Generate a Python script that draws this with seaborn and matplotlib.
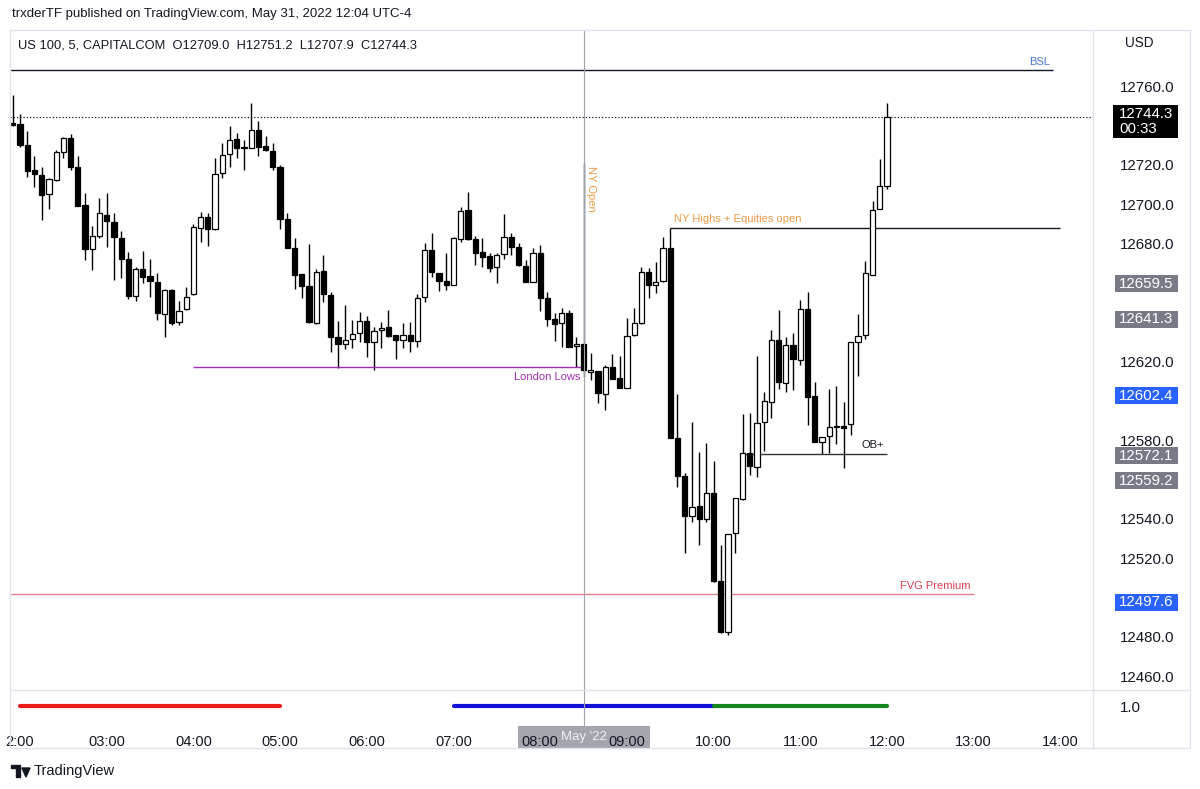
import numpy as np
import pandas as pd
import matplotlib
matplotlib.use("Agg")
import matplotlib.pyplot as plt
import matplotlib.transforms as mtransforms
from matplotlib.lines import Line2D
from matplotlib.patches import Polygon, Rectangle
import seaborn as sns

# US 100, 5 min bars, 31 May 2022, 01:55 -> 12:00
opens = [12741.0, 12740.5, 12730.0, 12717.3, 12714.7, 12705.1, 12712.2, 12726.4, 12733.7, 12718.7,
         12699.3, 12677.3, 12683.7, 12694.6, 12690.8, 12682.9, 12671.9, 12653.2, 12666.8, 12663.4,
         12660.5, 12644.1, 12656.3, 12640.1, 12646.4, 12654.1, 12688.0, 12693.5, 12687.3, 12715.6,
         12725.3, 12732.9, 12729.0, 12728.6, 12737.6, 12729.3, 12727.1, 12719.0, 12692.4, 12677.5,
         12664.3, 12658.3, 12639.3, 12665.9, 12653.7, 12632.5, 12628.8, 12631.3, 12634.2, 12640.5,
         12630.0, 12635.8, 12637.5, 12633.4, 12630.8, 12633.4, 12630.3, 12652.6, 12676.6, 12664.8,
         12660.8, 12658.8, 12682.0, 12696.9, 12682.0, 12675.7, 12673.6, 12667.8, 12674.4, 12683.4,
         12678.0, 12668.6, 12660.5, 12674.9, 12652.0, 12641.4, 12639.6, 12644.4, 12627.8, 12628.7,
         12614.6, 12615.2, 12603.4, 12617.0, 12611.4, 12606.6, 12633.2, 12639.3, 12665.3, 12658.8,
         12660.8, 12677.9, 12580.9, 12561.7, 12541.5, 12546.4, 12539.8, 12552.9, 12508.3, 12482.2,
         12532.9, 12549.8, 12573.5, 12566.4, 12589.1, 12599.2, 12630.9, 12609.2, 12628.3, 12620.9,
         12646.5, 12602.2, 12579.2, 12582.0, 12587.2, 12587.3, 12588.0, 12629.7, 12633.3, 12664.0,
         12697.5, 12709.0]
highs = [12755.5, 12745.8, 12737.1, 12724.4, 12718.8, 12713.4, 12727.5, 12734.2, 12735.6, 12724.4,
         12705.7, 12688.8, 12703.2, 12705.7, 12695.4, 12686.3, 12675.7, 12668.1, 12676.1, 12671.9,
         12665.1, 12656.6, 12656.8, 12650.7, 12657.9, 12689.7, 12696.1, 12695.3, 12723.5, 12730.9,
         12739.8, 12736.3, 12732.5, 12751.2, 12742.2, 12734.6, 12730.9, 12719.8, 12695.3, 12682.6,
         12664.4, 12679.5, 12666.9, 12674.1, 12655.4, 12640.5, 12648.6, 12641.0, 12645.2, 12643.0,
         12637.6, 12640.2, 12646.1, 12633.4, 12639.3, 12639.8, 12654.1, 12680.0, 12685.4, 12664.9,
         12675.2, 12683.4, 12698.6, 12705.9, 12683.7, 12682.9, 12674.9, 12674.9, 12694.8, 12685.1,
         12680.3, 12671.5, 12677.5, 12679.1, 12655.1, 12644.4, 12647.0, 12646.1, 12632.5, 12628.8,
         12624.1, 12615.3, 12618.1, 12623.7, 12622.7, 12641.9, 12647.0, 12667.8, 12667.3, 12670.4,
         12683.0, 12687.8, 12603.4, 12563.1, 12589.3, 12573.7, 12578.3, 12569.3, 12526.6, 12532.1,
         12550.4, 12593.1, 12593.6, 12622.7, 12604.4, 12636.2, 12645.9, 12632.2, 12634.5, 12651.2,
         12655.1, 12609.7, 12581.5, 12605.7, 12607.4, 12599.2, 12629.8, 12643.9, 12671.0, 12701.6,
         12722.8, 12751.2]
lows = [12739.5, 12728.8, 12713.7, 12708.6, 12691.9, 12697.5, 12711.7, 12723.5, 12717.3, 12699.0,
        12671.5, 12666.4, 12682.6, 12678.3, 12661.4, 12662.2, 12651.7, 12650.7, 12659.7, 12652.6,
        12641.0, 12632.5, 12638.5, 12638.5, 12646.1, 12653.7, 12680.8, 12678.8, 12686.8, 12713.4,
        12719.0, 12723.2, 12717.3, 12728.5, 12724.4, 12727.2, 12717.3, 12687.1, 12677.5, 12656.8,
        12652.0, 12639.7, 12639.2, 12650.3, 12624.9, 12616.4, 12626.1, 12626.9, 12630.0, 12622.3,
        12615.6, 12626.6, 12632.4, 12621.2, 12626.6, 12624.6, 12627.4, 12650.3, 12663.0, 12655.9,
        12656.3, 12658.6, 12680.8, 12681.7, 12669.0, 12668.1, 12665.3, 12659.7, 12672.0, 12674.1,
        12668.7, 12660.2, 12660.3, 12645.6, 12638.1, 12630.5, 12627.4, 12627.3, 12617.3, 12612.2,
        12610.5, 12598.7, 12595.2, 12610.8, 12606.4, 12606.4, 12632.9, 12639.2, 12652.0, 12654.9,
        12660.6, 12580.8, 12556.2, 12522.4, 12538.5, 12526.6, 12538.5, 12508.0, 12482.0, 12480.8,
        12522.4, 12549.7, 12562.2, 12561.3, 12574.4, 12591.2, 12606.2, 12604.4, 12605.4, 12618.1,
        12587.7, 12579.1, 12572.7, 12573.6, 12578.0, 12565.6, 12582.4, 12612.4, 12631.5, 12663.9,
        12697.5, 12707.9]
closes = [12740.0, 12730.0, 12716.8, 12715.3, 12704.6, 12712.7, 12726.4, 12733.4, 12718.7, 12699.0,
          12677.3, 12683.9, 12695.3, 12691.2, 12683.4, 12672.0, 12653.2, 12666.9, 12663.0, 12660.8,
          12644.4, 12656.3, 12639.6, 12645.7, 12652.9, 12688.5, 12693.5, 12687.1, 12715.3, 12724.9,
          12732.5, 12728.6, 12728.6, 12737.6, 12728.8, 12727.3, 12719.0, 12692.4, 12677.8, 12663.9,
          12658.5, 12640.0, 12665.6, 12654.2, 12632.5, 12628.8, 12630.8, 12633.7, 12640.5, 12630.0,
          12635.4, 12637.1, 12632.9, 12630.8, 12633.4, 12630.5, 12652.0, 12676.6, 12665.3, 12660.8,
          12658.8, 12682.6, 12696.4, 12682.0, 12675.2, 12673.2, 12667.6, 12674.1, 12683.4, 12678.0,
          12669.0, 12660.5, 12674.9, 12652.0, 12641.4, 12639.0, 12644.7, 12627.4, 12628.7, 12615.6,
          12615.6, 12603.7, 12617.3, 12610.9, 12606.6, 12632.9, 12639.3, 12665.3, 12658.8, 12660.5,
          12677.6, 12580.9, 12561.7, 12541.5, 12545.8, 12539.7, 12553.2, 12508.3, 12482.5, 12532.1,
          12550.3, 12573.2, 12566.8, 12588.5, 12599.7, 12630.9, 12609.7, 12628.3, 12621.2, 12646.5,
          12601.8, 12579.2, 12581.5, 12586.8, 12586.4, 12586.3, 12629.7, 12632.7, 12664.9, 12697.1,
          12709.0, 12744.3]
bar_times = pd.date_range("2022-05-31 01:55", "2022-05-31 12:00", freq="5min")

# drawn levels
bsl_level = 12768.0
ny_high_level = 12687.8
london_low_level = 12617.0
ob_level = 12573.0
fvg_level = 12501.5
last_price = 12744.3

price_ticks = [12760, 12720, 12700, 12680, 12620, 12580, 12540, 12520, 12480, 12460]
time_ticks = list(range(2, 15))
time_labels = ["2:00"] + [f"{h:02d}:00" for h in range(3, 15)]
gray_tags = [12659.5, 12641.3, 12572.1, 12559.2]
blue_tags = [12602.4, 12497.6]
sessions = [(2, 5, "#ee1b1b"), (7, 10, "#1212d6"), (10, 12, "#12861a")]

sns.set_theme(style="white")
plt.rcParams["font.family"] = ["Liberation Sans", "DejaVu Sans"]
TXT = "#131722"
ORANGE = "#ec9a45"
PURPLE = "#a12bb3"

W, H = 1200, 789
def box(x0, y0, x1, y1):
    return [x0 / W, 1 - y1 / H, (x1 - x0) / W, (y1 - y0) / H]

def fx(px):
    return 2 + (px - 20) / 86.7

PPX = 0.5085  # price per pixel on the main pane

fig = plt.figure(figsize=(12, 7.89), dpi=100)
ax = fig.add_axes(box(10, 30, 1093, 690))
ax_ind = fig.add_axes(box(10, 690, 1093, 722), sharex=ax)

df = pd.DataFrame({"time": bar_times, "open": opens, "high": highs, "low": lows, "close": closes})
df["x"] = df["time"].dt.hour + df["time"].dt.minute / 60
up = df["close"] >= df["open"]
body_h = (df["close"] - df["open"]).abs().clip(lower=0.45)
body_b = df[["open", "close"]].min(axis=1)

ax.vlines(df["x"], df["low"], df["high"], color="black", lw=1.0, zorder=2)
ax.bar(df["x"], body_h, bottom=body_b, width=0.72 / 12,
       color=np.where(up, "white", "black"), edgecolor="black", linewidth=0.9, zorder=3)

x_left, x_right = fx(10), fx(1093)
ax.set_xlim(x_left, x_right)
ax.set_ylim(12452.9, 12788.5)

# levels and notes
ax.hlines(bsl_level, x_left, fx(1053), color=TXT, lw=1.0)
ax.text(fx(1050), bsl_level + 1.5, "BSL", ha="right", va="bottom", color="#4b74d6", fontsize=8)
ax.hlines(ny_high_level, 9.5, 14.0, color=TXT, lw=1.0)
ax.text(fx(674), ny_high_level + 1.8, "NY Highs + Equities open", ha="left", va="bottom",
        color=ORANGE, fontsize=8)
ax.hlines(london_low_level, 4.0, 8.5, color=PURPLE, lw=1.0)
ax.text(fx(580), london_low_level - 2.5, "London Lows", ha="right", va="top", color=PURPLE, fontsize=8)
ax.vlines(8.5, 12615.6, 12720.8, color=TXT, lw=1.0, zorder=1)
ax.text(fx(591), 12719.5, "NY Open", rotation=270, ha="center", va="top", color=ORANGE, fontsize=8)
ax.hlines(ob_level, 10 + 20 / 60, 12.0, color="#333333", lw=1.0)
ax.text(fx(884), ob_level + 2.0, "OB+", ha="right", va="bottom", color=TXT, fontsize=8)
ax.hlines(fvg_level, x_left, 13.0, color="#e2808a", lw=1.0)
ax.text(fx(970), fvg_level + 1.5, "FVG Premium", ha="right", va="bottom", color="#df3f52", fontsize=8)
ax.axhline(last_price, ls=(0, (1, 1.6)), color=TXT, lw=0.9)

# crosshair at 08:30
fig.add_artist(Line2D([583.6 / W] * 2, [1 - 30 / H, 1 - 726 / H], color="#9ea2ab", lw=0.8))

# right price scale
ax.yaxis.tick_right()
ax.set_yticks(price_ticks)
ax.set_yticklabels([f"{p:.1f}" for p in price_ticks])
ax.tick_params(axis="y", length=0, pad=19.5, labelsize=10.8, labelcolor=TXT)
ax.tick_params(axis="x", bottom=False, labelbottom=False)
for s in ax.spines.values():
    s.set_visible(False)

tr = mtransforms.blended_transform_factory(ax.transAxes, ax.transData)
def ax_frac(px):
    return (px - 10) / 1083

def price_tag(price, text_lines, color, top_px, bottom_px, x0=1115):
    y_top = price + top_px * PPX
    y_bot = price - bottom_px * PPX
    ax.add_patch(Rectangle((ax_frac(x0), y_bot), ax_frac(1178) - ax_frac(x0), y_top - y_bot,
                           transform=tr, fc=color, ec="none", clip_on=False, zorder=5))
    ax.text(ax_frac(1119), (y_top + y_bot) / 2, text_lines, transform=tr, ha="left", va="center",
            color="white", fontsize=10.8, linespacing=1.12, clip_on=False, zorder=6)

for p in gray_tags:
    price_tag(p, f"{p:.1f}", "#787b86", 8.5, 8.5)
for p in blue_tags:
    price_tag(p, f"{p:.1f}", "#2962ff", 8.5, 8.5)
price_tag(last_price, f"{last_price:.1f}\n00:33", "#000000", 12, 21, x0=1113)

# session lines in the lower pane
for start, end, col in sessions:
    sns.lineplot(x=[start, end], y=[1.0, 1.0], color=col, lw=3, ax=ax_ind)
ax_ind.set_ylim(0, 2)
ax_ind.yaxis.tick_right()
ax_ind.set_yticks([1.0])
ax_ind.set_yticklabels(["1.0"])
ax_ind.tick_params(axis="y", length=0, pad=19.5, labelsize=10.8, labelcolor=TXT)
ax_ind.set_xticks(time_ticks)
ax_ind.set_xticklabels(time_labels)
ax_ind.tick_params(axis="x", length=0, pad=9, labelsize=10.5, labelcolor=TXT)
ax_ind.set_xlim(x_left, x_right)
ax_ind.set_axisbelow(False)
for s in ax_ind.spines.values():
    s.set_visible(False)

# crosshair date tag under the time labels
ax_ind.add_patch(Rectangle((518 / W, 1 - 748 / H), 132 / W, 22 / H, transform=fig.transFigure,
                           fc="#a3a6ad", ec="none", clip_on=False, zorder=2))
ax_ind.text(584 / W, 1 - 737 / H, "May '22", transform=fig.transFigure, ha="center", va="center",
            color="#eceff3", fontsize=9.5, zorder=2.2, clip_on=False)

# panel frame
frame = "#e0e3eb"
for (x0, y0, x1, y1) in [(10, 30, 1190, 30), (10, 748, 1190, 748), (10, 30, 10, 748),
                         (1190, 30, 1190, 748), (1093, 30, 1093, 748), (10, 690, 1190, 690)]:
    fig.add_artist(Line2D([x0 / W, x1 / W], [1 - y0 / H, 1 - y1 / H], color=frame, lw=1.0))

fig.text(12 / W, 1 - 14 / H, "trxderTF published on TradingView.com, May 31, 2022 12:04 UTC-4",
         ha="left", va="center", fontsize=9.5, color=TXT)
fig.text(18 / W, 1 - 46 / H, "US 100, 5, CAPITALCOM  O12709.0  H12751.2  L12707.9  C12744.3",
         ha="left", va="center", fontsize=9.3, color=TXT)
fig.text(1125 / W, 1 - 43 / H, "USD", ha="left", va="center", fontsize=9.8, color=TXT)

# TradingView logo
fig.add_artist(Rectangle((11 / W, 1 - 768 / H), 9 / W, 3 / H, color=TXT))
fig.add_artist(Rectangle((16 / W, 1 - 777 / H), 4 / W, 10 / H, color=TXT))
fig.add_artist(Polygon([[22 / W, 1 - 768 / H], [30 / W, 1 - 768 / H], [26 / W, 1 - 777 / H]], color=TXT))
fig.text(34 / W, 1 - 771 / H, "TradingView", ha="left", va="center", fontsize=10.5, color=TXT)

fig.savefig("out.png", dpi=100)
